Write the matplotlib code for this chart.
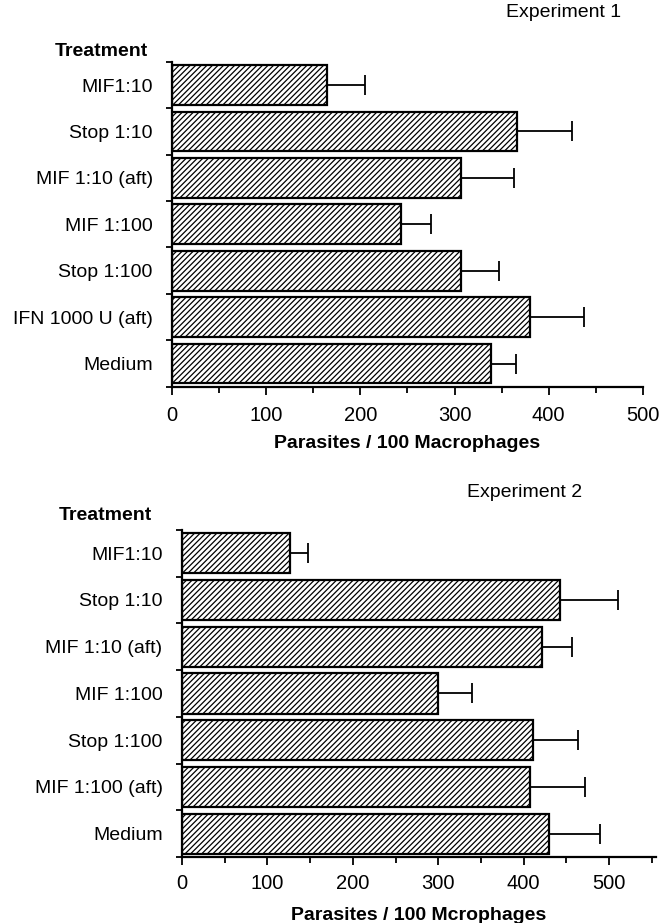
import matplotlib
matplotlib.use("Agg")
import matplotlib.pyplot as plt
from matplotlib.ticker import MultipleLocator, FixedLocator
import numpy as np

plt.rcParams['font.family'] = ['Liberation Sans', 'DejaVu Sans']
plt.rcParams['hatch.linewidth'] = 0.9

# Experiment 1
cats1 = ["MIF1:10", "Stop 1:10", "MIF 1:10 (aft)", "MIF 1:100", "Stop 1:100",
         "IFN 1000 U (aft)", "Medium"]
vals1 = [165, 366, 307, 243, 307, 380, 339]
errs1 = [40, 59, 56, 32, 40, 58, 26]

# Experiment 2
cats2 = ["MIF1:10", "Stop 1:10", "MIF 1:10 (aft)", "MIF 1:100", "Stop 1:100",
         "MIF 1:100 (aft)", "Medium"]
vals2 = [126, 443, 422, 300, 411, 407, 430]
errs2 = [21, 67, 35, 40, 53, 65, 59]

xticks = [0, 100, 200, 300, 400, 500]

fig = plt.figure(figsize=(6.62, 9.23), dpi=100)

def panel(rect, cats, vals, errs, xmax, xlabel, tpad, lpad):
    ax = fig.add_axes(rect)
    n = len(cats)
    y = np.arange(n)
    ax.barh(y, vals, height=0.86, color='white', edgecolor='black',
            linewidth=1.6, hatch='//////', zorder=2)
    ax.errorbar(vals, y, xerr=[np.zeros(n), errs], fmt='none', ecolor='black',
                elinewidth=1.3, capsize=7, capthick=1.3, zorder=3)
    ax.set_ylim(n - 0.5, -0.5)
    ax.set_xlim(0, xmax)
    ax.set_yticks(y)
    ax.set_yticklabels(cats, fontsize=14)
    ax.tick_params(axis='y', length=0, pad=14)
    ax.yaxis.set_minor_locator(FixedLocator(np.arange(-0.5, n, 1.0)))
    ax.tick_params(axis='y', which='minor', length=4, width=1.3)
    ax.set_xticks(xticks)
    ax.set_xticklabels([str(t) for t in xticks], fontsize=14.5)
    ax.xaxis.set_minor_locator(MultipleLocator(50))
    ax.tick_params(axis='x', which='major', length=6, width=1.3, pad=tpad)
    ax.tick_params(axis='x', which='minor', length=4, width=1.3)
    for s in ['top', 'right']:
        ax.spines[s].set_visible(False)
    for s in ['left', 'bottom']:
        ax.spines[s].set_linewidth(1.6)
    ax.set_xlabel(xlabel, fontsize=14, fontweight='bold', labelpad=lpad)
    return ax

ax1 = panel([0.260, 0.581, 0.711, 0.352], cats1, vals1, errs1, 500,
            "Parasites / 100 Macrophages", 8, 7)
ax2 = panel([0.275, 0.0715, 0.716, 0.3545], cats2, vals2, errs2, 555,
            "Parasites / 100 Mcrophages", 6, 10)

fig.text(0.224, 0.944, "Treatment", fontsize=14, fontweight='bold', ha='right', va='center')
fig.text(0.230, 0.442, "Treatment", fontsize=14, fontweight='bold', ha='right', va='center')
fig.text(0.938, 0.986, "Experiment 1", fontsize=14, ha='right', va='center')
fig.text(0.880, 0.466, "Experiment 2", fontsize=14, ha='right', va='center')

fig.savefig("out.png", dpi=100)
